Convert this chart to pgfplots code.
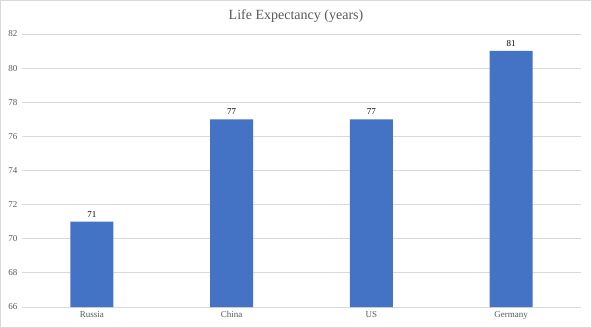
\documentclass[border=0pt]{standalone}
\usepackage{pgfplots}
\pgfplotsset{compat=1.18}
\usepackage{fontspec}
\setmainfont{Liberation Serif}
\definecolor{barblue}{HTML}{4472C4}
\definecolor{gridgray}{HTML}{D9D9D9}
\definecolor{textgray}{HTML}{595959}
\begin{document}
\begin{tikzpicture}[x=1pt,y=1pt]
\draw[gridgray, line width=0.8pt, fill=white] (0.5,0.5) rectangle (591.5,327.5);
\node[text=textgray, font=\fontsize{14}{16}\selectfont] at (296,312) {Life Expectancy (years)};
\begin{axis}[
  at={(22pt,21pt)}, anchor=south west,
  scale only axis, width=559pt, height=273pt,
  ymin=66, ymax=82, ytick={66,68,...,82},
  xmin=-0.5, xmax=3.5,
  xtick={0,1,2,3}, xticklabels={Russia,China,US,Germany},
  ybar, bar width=43pt,
  ymajorgrids, grid style={gridgray, line width=0.8pt},
  axis x line*=bottom, axis y line*=left,
  x axis line style={gridgray, line width=0.8pt},
  y axis line style={draw=none},
  major tick length=0pt,
  tick label style={text=textgray, font=\fontsize{9}{10}\selectfont},
  /pgf/number format/assume math mode=true,
  yticklabel style={xshift=-1pt},
  xticklabel style={yshift=-1pt},
  tick style={draw=none},
  nodes near coords,
  every node near coord/.append style={text=black, font=\fontsize{9}{10}\selectfont, yshift=1pt},
  clip=false,
]
\addplot[fill=barblue, draw=none] coordinates {(0,71) (1,77) (2,77) (3,81)};
\end{axis}
\end{tikzpicture}
\end{document}
